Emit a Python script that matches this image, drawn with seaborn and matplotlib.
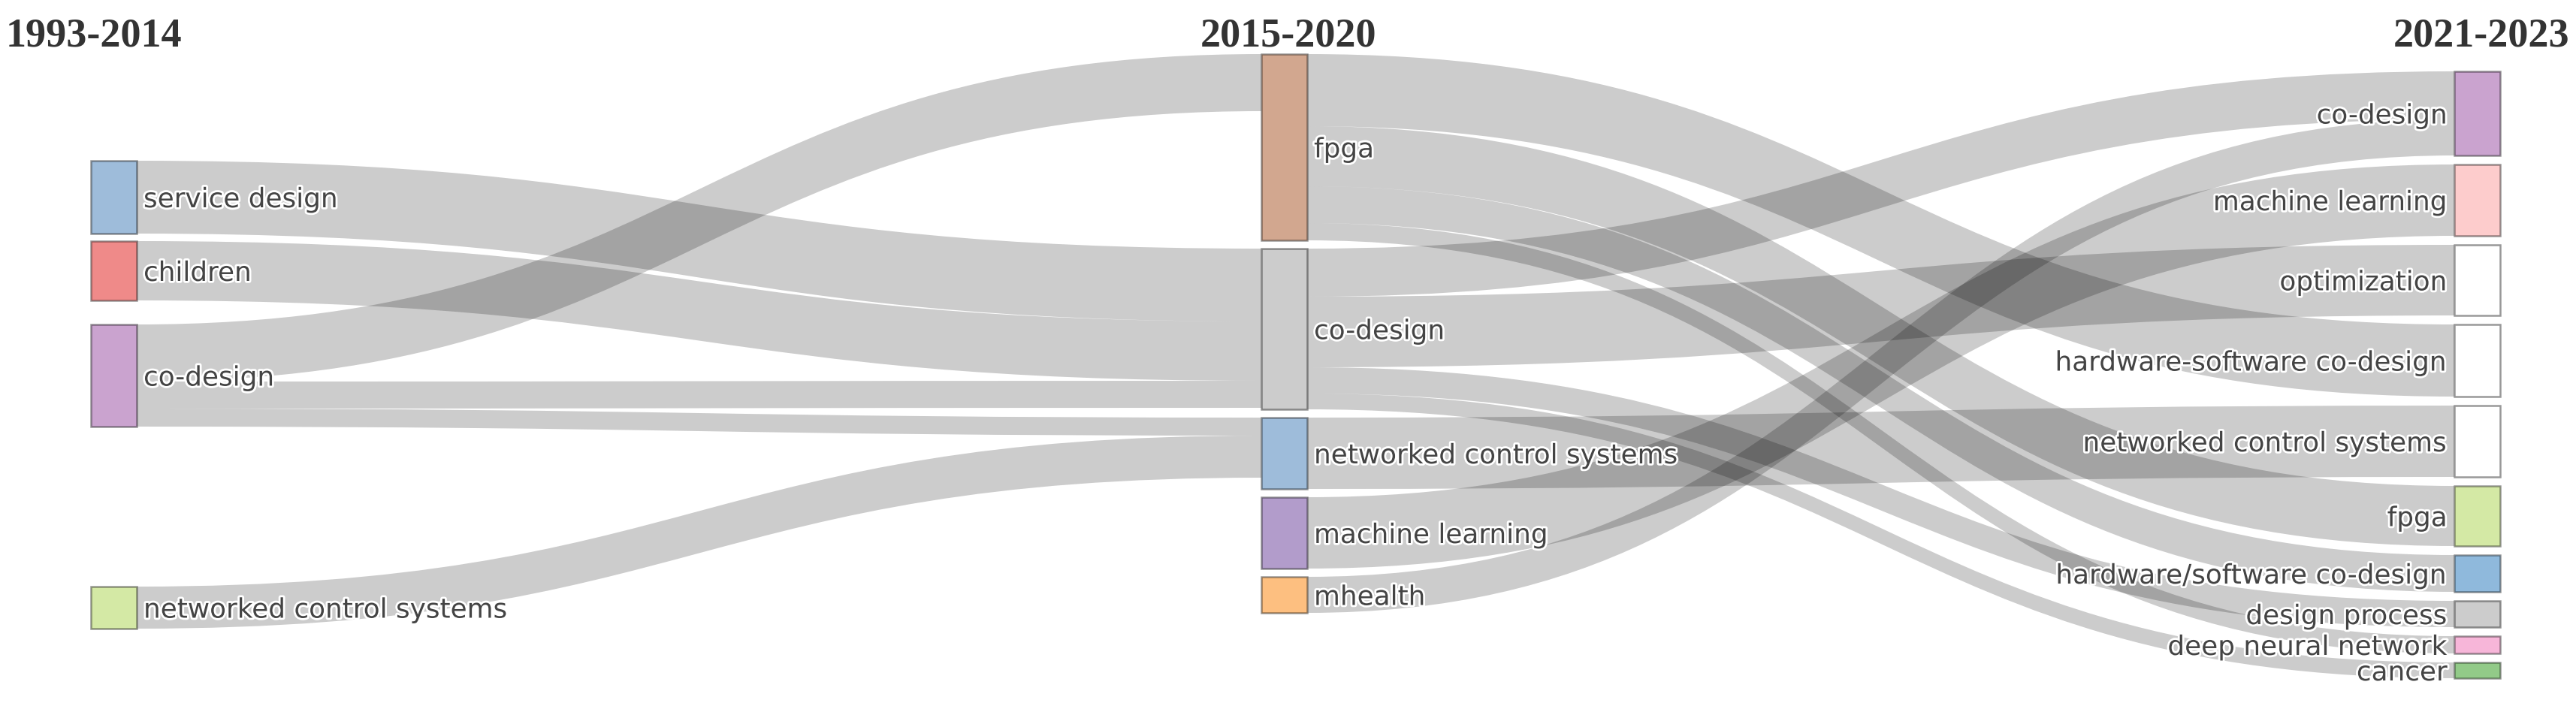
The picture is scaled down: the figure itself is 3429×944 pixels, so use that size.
# ==========================================================
# thematic evolution sankey (1993-2014 / 2015-2020 / 2021-2023)
# ==========================================================

import numpy as np
import pandas as pd

import matplotlib
matplotlib.use("Agg")
import matplotlib.pyplot as plt
from matplotlib.path import Path
from matplotlib.patches import PathPatch, Rectangle
import matplotlib.patheffects as pe
import seaborn as sns

# ==========================================================
# data
# ==========================================================

periods = ["1993-2014", "2015-2020", "2021-2023"]

nodes_p1 = ["service design", "children", "co-design", "networked control systems"]
nodes_p2 = ["fpga", "co-design", "networked control systems", "machine learning", "mhealth"]
nodes_p3 = [
    "co-design",
    "machine learning",
    "optimization",
    "hardware-software co-design",
    "networked control systems",
    "fpga",
    "hardware/software co-design",
    "design process",
    "deep neural network",
    "cancer",
]

colors_p1 = ["#9ebcda", "#ef8a89", "#caa3cf", "#d4e9a5"]
colors_p2 = ["#d2a78f", "#cccccc", "#9ebcda", "#b29ccb", "#fdbf80"]
colors_p3 = ["#caa3cf", "#fdcccc", "#ffffff", "#ffffff", "#ffffff",
             "#d4e9a5", "#8fb9dc", "#cccccc", "#f7b6d9", "#92ca88"]

# links period 1 -> period 2
src_12 = ["service design", "children", "co-design", "co-design", "co-design",
          "networked control systems"]
tgt_12 = ["co-design", "co-design", "fpga", "co-design", "networked control systems",
          "networked control systems"]
val_12 = [97, 79, 76, 36, 24, 56]

# links period 2 -> period 3
src_23 = ["fpga", "fpga", "fpga", "fpga",
          "co-design", "co-design", "co-design", "co-design",
          "networked control systems", "machine learning", "mhealth"]
tgt_23 = ["hardware-software co-design", "fpga", "hardware/software co-design",
          "deep neural network",
          "co-design", "optimization", "design process", "cancer",
          "networked control systems", "machine learning", "co-design"]
val_23 = [96, 80, 49, 23, 64, 94, 35, 21, 95, 95, 48]

# ==========================================================
# layout (pixel canvas)
# ==========================================================

W, H = 3430, 945
col_x = [121, 1679, 3267]
node_w = 61
col_top = [215, 73, 96]
col_pad = [10, 11, 12]
# extra vertical space before a node (period, label) -> px
extra_gap = {(0, "co-design"): 22, (0, "networked control systems"): 203}

nodes = pd.DataFrame({
    "period": [0] * len(nodes_p1) + [1] * len(nodes_p2) + [2] * len(nodes_p3),
    "label": nodes_p1 + nodes_p2 + nodes_p3,
    "color": colors_p1 + colors_p2 + colors_p3,
})
links = pd.concat([
    pd.DataFrame({"sp": 0, "src": src_12, "tgt": tgt_12, "value": val_12}),
    pd.DataFrame({"sp": 1, "src": src_23, "tgt": tgt_23, "value": val_23}),
], ignore_index=True)

key = lambda p, lab: (p, lab)
node_in = {}
node_out = {}
for _, r in links.iterrows():
    node_out[key(r.sp, r.src)] = node_out.get(key(r.sp, r.src), 0) + r.value
    node_in[key(r.sp + 1, r.tgt)] = node_in.get(key(r.sp + 1, r.tgt), 0) + r.value

nodes["value"] = [max(node_in.get(key(p, l), 0), node_out.get(key(p, l), 0))
                  for p, l in zip(nodes.period, nodes.label)]

# stack nodes in each column
y0s = []
for p in range(3):
    y = col_top[p]
    for lab, v in zip(nodes.label[nodes.period == p], nodes.value[nodes.period == p]):
        y += extra_gap.get((p, lab), 0)
        y0s.append(y)
        y += v + col_pad[p]
nodes["y0"] = y0s
nodes["y1"] = nodes.y0 + nodes.value
nodes["x0"] = [col_x[p] for p in nodes.period]
nodes["x1"] = nodes.x0 + node_w
pos = {key(p, l): i for i, (p, l) in enumerate(zip(nodes.period, nodes.label))}

# link offsets (sorted by position of the other end, like d3-sankey)
links["si"] = [pos[key(p, s)] for p, s in zip(links.sp, links.src)]
links["ti"] = [pos[key(p + 1, t)] for p, t in zip(links.sp, links.tgt)]
links["sy0"] = 0.0
links["ty0"] = 0.0
for i in range(len(nodes)):
    out = links[links.si == i].copy()
    out["oy"] = nodes.y0[out.ti].values
    y = nodes.y0[i]
    for j in out.sort_values("oy").index:
        links.loc[j, "sy0"] = y
        y += links.value[j]
    inc = links[links.ti == i].copy()
    inc["oy"] = nodes.y0[inc.si].values
    y = nodes.y0[i]
    for j in inc.sort_values("oy").index:
        links.loc[j, "ty0"] = y
        y += links.value[j]

# ==========================================================
# plot
# ==========================================================

sns.set_theme(style="white")
plt.rcParams["font.family"] = ["DejaVu Sans"]

fig = plt.figure(figsize=(W / 100, H / 100), dpi=100)
ax = fig.add_axes([0, 0, 1, 1])
ax.set_xlim(0, W)
ax.set_ylim(H, 0)
ax.axis("off")

for _, r in links.iterrows():
    xa = nodes.x1[r.si]
    xb = nodes.x0[r.ti]
    xm = (xa + xb) / 2
    w = r.value
    verts = [
        (xa, r.sy0), (xm, r.sy0), (xm, r.ty0), (xb, r.ty0),
        (xb, r.ty0 + w), (xm, r.ty0 + w), (xm, r.sy0 + w), (xa, r.sy0 + w),
        (xa, r.sy0),
    ]
    codes = [Path.MOVETO, Path.CURVE4, Path.CURVE4, Path.CURVE4,
             Path.LINETO, Path.CURVE4, Path.CURVE4, Path.CURVE4, Path.CLOSEPOLY]
    ax.add_patch(PathPatch(Path(verts, codes), facecolor=(0, 0, 0, 0.2),
                           edgecolor="none", zorder=1))

halo = [pe.withStroke(linewidth=4, foreground="white")]

for _, n in nodes.iterrows():
    ax.add_patch(Rectangle((n.x0, n.y0), node_w, n.value,
                           facecolor=n.color, edgecolor=(0, 0, 0, 0.4),
                           linewidth=1.8, zorder=2))
    yc = (n.y0 + n.y1) / 2
    if n.period < 2:
        ax.text(n.x1 + 9, yc, n.label, ha="left", va="center_baseline",
                fontsize=25.8, color="#444444", path_effects=halo, zorder=3)
    else:
        ax.text(n.x0 - 9, yc, n.label, ha="right", va="center_baseline",
                fontsize=25.8, color="#444444", path_effects=halo, zorder=3)

title_x = [8, W / 2, W - 10]
title_ha = ["left", "center", "right"]
for t, x, ha in zip(periods, title_x, title_ha):
    ax.text(x, 62, t, ha=ha, va="baseline", fontsize=39,
            family="Liberation Serif", fontweight="bold", color="#333333")

plt.savefig("out.png", dpi=100)
